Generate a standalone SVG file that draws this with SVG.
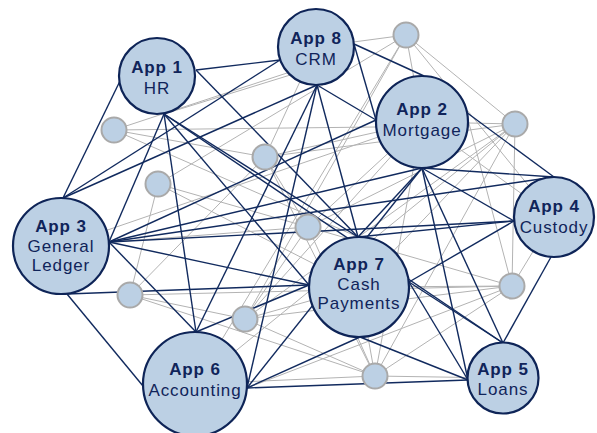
<svg xmlns="http://www.w3.org/2000/svg" width="597" height="433" viewBox="0 0 597 433">
<style>
.bg{fill:#ffffff}
.g line{stroke:#b3b3b3;stroke-width:1}
.d line{stroke:#112a5e;stroke-width:1.4}
.app{fill:#bcd0e4;stroke:#0e2457;stroke-width:2.2}
.sm{fill:#bcd0e4;stroke:#a9a9a9;stroke-width:2}
.t1{font-family:"Liberation Sans",Arial,sans-serif;font-weight:700;font-size:17px;letter-spacing:0.9px;fill:#10245a;text-anchor:middle}
.t2{font-family:"Liberation Sans",Arial,sans-serif;font-weight:400;font-size:17px;letter-spacing:0.9px;fill:#10245a;text-anchor:middle}
</style>
<rect class="bg" x="0" y="0" width="597" height="433"/>
<g id="connectors">
<g class="g">
<line x1="406" y1="35" x2="316" y2="47"/>
<line x1="406" y1="35" x2="195" y2="384"/>
<line x1="406" y1="35" x2="245" y2="319"/>
<line x1="406" y1="35" x2="422" y2="122"/>
<line x1="406" y1="35" x2="515" y2="124"/>
<line x1="406" y1="35" x2="158" y2="184"/>
<line x1="406" y1="35" x2="554" y2="217"/>
<line x1="114" y1="130" x2="376" y2="127"/>
<line x1="114" y1="130" x2="290" y2="72"/>
<line x1="114" y1="130" x2="265" y2="157"/>
<line x1="114" y1="130" x2="358" y2="237"/>
<line x1="164" y1="114" x2="300" y2="72"/>
<line x1="158" y1="184" x2="308" y2="227"/>
<line x1="158" y1="184" x2="130" y2="295"/>
<line x1="158" y1="184" x2="359" y2="287"/>
<line x1="265" y1="157" x2="130" y2="295"/>
<line x1="265" y1="157" x2="308" y2="227"/>
<line x1="265" y1="157" x2="422" y2="122"/>
<line x1="265" y1="157" x2="515" y2="124"/>
<line x1="265" y1="157" x2="375" y2="376"/>
<line x1="265" y1="157" x2="316" y2="47"/>
<line x1="515" y1="124" x2="422" y2="122"/>
<line x1="515" y1="124" x2="308" y2="227"/>
<line x1="515" y1="124" x2="195" y2="384"/>
<line x1="515" y1="124" x2="375" y2="376"/>
<line x1="515" y1="124" x2="512" y2="286"/>
<line x1="515" y1="124" x2="359" y2="287"/>
<line x1="515" y1="124" x2="245" y2="319"/>
<line x1="308" y1="227" x2="245" y2="319"/>
<line x1="308" y1="227" x2="512" y2="286"/>
<line x1="308" y1="227" x2="375" y2="376"/>
<line x1="308" y1="227" x2="61" y2="246"/>
<line x1="308" y1="227" x2="422" y2="122"/>
<line x1="130" y1="295" x2="245" y2="319"/>
<line x1="130" y1="295" x2="512" y2="286"/>
<line x1="130" y1="295" x2="375" y2="376"/>
<line x1="245" y1="319" x2="375" y2="376"/>
<line x1="245" y1="319" x2="359" y2="287"/>
<line x1="245" y1="319" x2="512" y2="286"/>
<line x1="245" y1="319" x2="422" y2="122"/>
<line x1="512" y1="286" x2="359" y2="287"/>
<line x1="512" y1="286" x2="554" y2="217"/>
<line x1="512" y1="286" x2="466" y2="112"/>
<line x1="512" y1="286" x2="375" y2="376"/>
<line x1="512" y1="286" x2="247" y2="388"/>
<line x1="375" y1="376" x2="359" y2="287"/>
<line x1="375" y1="376" x2="422" y2="122"/>
<line x1="375" y1="376" x2="503" y2="378"/>
<line x1="375" y1="376" x2="195" y2="384"/>
<line x1="554" y1="217" x2="422" y2="122"/>
<line x1="61" y1="246" x2="422" y2="122"/>
</g>
<g class="d">
<line x1="120" y1="81" x2="63" y2="198"/>
<line x1="196" y1="70" x2="280" y2="60"/>
<line x1="196" y1="70" x2="358" y2="237"/>
<line x1="164" y1="114" x2="109" y2="242"/>
<line x1="164" y1="114" x2="196" y2="332"/>
<line x1="164" y1="114" x2="358" y2="237"/>
<line x1="164" y1="114" x2="503" y2="343"/>
<line x1="164" y1="114" x2="309" y2="285"/>
<line x1="280" y1="60" x2="63" y2="198"/>
<line x1="317" y1="85" x2="63" y2="198"/>
<line x1="317" y1="85" x2="376" y2="120"/>
<line x1="317" y1="85" x2="196" y2="332"/>
<line x1="317" y1="85" x2="247" y2="388"/>
<line x1="317" y1="85" x2="358" y2="237"/>
<line x1="354" y1="44" x2="424" y2="76"/>
<line x1="354" y1="44" x2="376" y2="120"/>
<line x1="109" y1="242" x2="376" y2="120"/>
<line x1="109" y1="242" x2="422" y2="168"/>
<line x1="109" y1="242" x2="554" y2="177"/>
<line x1="109" y1="242" x2="514" y2="221"/>
<line x1="109" y1="242" x2="309" y2="285"/>
<line x1="109" y1="242" x2="196" y2="332"/>
<line x1="67" y1="294" x2="309" y2="285"/>
<line x1="67" y1="294" x2="143" y2="386"/>
<line x1="196" y1="332" x2="309" y2="285"/>
<line x1="247" y1="388" x2="422" y2="168"/>
<line x1="247" y1="388" x2="360" y2="337"/>
<line x1="247" y1="388" x2="468" y2="380"/>
<line x1="422" y1="168" x2="554" y2="177"/>
<line x1="422" y1="168" x2="514" y2="221"/>
<line x1="422" y1="168" x2="503" y2="343"/>
<line x1="422" y1="168" x2="468" y2="380"/>
<line x1="422" y1="168" x2="358" y2="237"/>
<line x1="466" y1="112" x2="554" y2="177"/>
<line x1="358" y1="237" x2="514" y2="221"/>
<line x1="409" y1="282" x2="514" y2="221"/>
<line x1="409" y1="282" x2="503" y2="343"/>
<line x1="409" y1="282" x2="468" y2="380"/>
<line x1="360" y1="337" x2="468" y2="380"/>
<line x1="551" y1="257" x2="503" y2="343"/>
</g>
</g>
<g id="s1"><circle class="sm" cx="406" cy="35" r="12.5"/></g>
<g id="s2"><circle class="sm" cx="114" cy="130" r="12.5"/></g>
<g id="s3"><circle class="sm" cx="158" cy="184" r="12.5"/></g>
<g id="s4"><circle class="sm" cx="265" cy="157" r="12.5"/></g>
<g id="s5"><circle class="sm" cx="515" cy="124" r="12.5"/></g>
<g id="s6"><circle class="sm" cx="308" cy="227" r="12.5"/></g>
<g id="s7"><circle class="sm" cx="130" cy="295" r="12.5"/></g>
<g id="s8"><circle class="sm" cx="245" cy="319" r="12.5"/></g>
<g id="s9"><circle class="sm" cx="512" cy="286" r="12.5"/></g>
<g id="s10"><circle class="sm" cx="375" cy="376" r="12.5"/></g>
<g id="app1"><circle class="app" cx="157" cy="76" r="38"/><text class="t1" x="157" y="73">App 1</text><text class="t2" x="157" y="94">HR</text></g>
<g id="app8"><circle class="app" cx="316" cy="47" r="38"/><text class="t1" x="316" y="44">App 8</text><text class="t2" x="316" y="65">CRM</text></g>
<g id="app2"><circle class="app" cx="422" cy="122" r="46"/><text class="t1" x="422" y="115">App 2</text><text class="t2" x="422" y="136">Mortgage</text></g>
<g id="app4"><circle class="app" cx="554" cy="217" r="40"/><text class="t1" x="554" y="212">App 4</text><text class="t2" x="554" y="233">Custody</text></g>
<g id="app3"><circle class="app" cx="61" cy="246" r="48"/><text class="t1" x="61" y="232">App 3</text><text class="t2" x="61" y="252">General</text><text class="t2" x="61" y="271">Ledger</text></g>
<g id="app7"><circle class="app" cx="359" cy="287" r="50"/><text class="t1" x="359" y="270">App 7</text><text class="t2" x="359" y="290">Cash</text><text class="t2" x="359" y="309">Payments</text></g>
<g id="app6"><circle class="app" cx="195" cy="384" r="52"/><text class="t1" x="195" y="375">App 6</text><text class="t2" x="195" y="396">Accounting</text></g>
<g id="app5"><circle class="app" cx="503" cy="378" r="35.5"/><text class="t1" x="503" y="375">App 5</text><text class="t2" x="503" y="395">Loans</text></g>
</svg>
